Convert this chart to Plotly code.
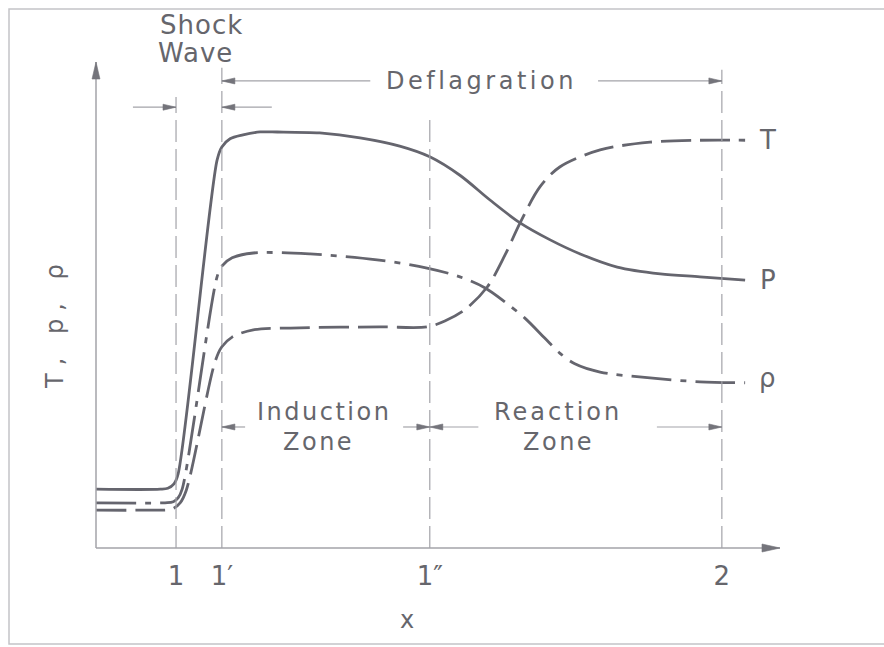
import math
import plotly.graph_objects as go

# Stations along the detonation wave (distance in arbitrary units)
station_x = [11.7, 18.4, 48.8, 91.5]
station_labels = ["1", "1′", "1″", "2"]

# Temperature T (dashed curve), relative units
t_x = [0, 7.9, 11.1, 12.3, 13.2, 17.4, 18.4, 19.9, 23.0, 29.8, 41.5, 48.4,
       51.0, 53.9, 57.2, 59.8, 62.0, 64.9, 67.8, 73.7, 81.0, 88.3, 94.9]
t_val = [7.8, 7.8, 8.0, 9.3, 11.9, 38.3, 41.4, 43.4, 44.9, 45.3, 45.5, 45.5,
         46.7, 49.0, 53.7, 60.3, 66.9, 74.3, 78.4, 81.9, 83.5, 83.9, 83.9]

# Pressure P (solid curve), relative units
p_x = [0, 9.4, 10.5, 11.4, 12.0, 17.7, 18.4, 19.6, 21.5, 24.0, 26.5, 32.7,
       38.6, 44.4, 48.8, 53.2, 57.6, 62.0, 66.4, 70.8, 76.2, 82.5, 88.3, 94.9]
p_val = [12.1, 12.1, 12.3, 13.2, 15.2, 79.8, 82.5, 84.2, 85.0, 85.6, 85.6, 85.4,
         84.4, 82.7, 80.5, 76.7, 71.6, 66.9, 63.4, 60.5, 57.8, 56.4, 55.8, 55.1]

# Density rho (dash-dot curve), relative units
rho_x = [0, 10.1, 11.3, 12.0, 12.6, 17.7, 18.4, 19.9, 23.0, 31.3, 41.1, 48.4,
         53.2, 56.9, 59.8, 62.7, 65.6, 67.8, 70.0, 73.7, 81.0, 88.3, 94.9]
rho_val = [9.3, 9.3, 9.5, 10.3, 12.1, 55.8, 58.0, 59.7, 60.7, 60.5, 59.3, 57.6,
           55.8, 53.5, 50.6, 47.3, 43.2, 40.1, 37.9, 36.2, 35.0, 34.2, 34.0]

INK = "#65656e"
THIN = "#a3a3a9"
HEAD = "#74747b"
TEXT = "#66666c"
FONT = "DejaVu Sans"

W, H = 884, 647
ML, MR, MT, MB = 96, 104, 62, 99
PX_X = (W - ML - MR) / 100.0
PX_Y = (H - MT - MB) / 100.0

fig = go.Figure()

for xs, ys, dash, name in [
    (t_x, t_val, "30px,9px", "T"),
    (p_x, p_val, "solid", "P"),
    (rho_x, rho_val, "40px,9px,6px,9px", "ρ"),
]:
    fig.add_trace(go.Scatter(
        x=xs, y=ys, mode="lines", name=name, hoverinfo="skip",
        line=dict(color=INK, width=2.8, dash=dash, shape="spline", smoothing=0.9),
    ))

shapes = []


def arrow(x0, y0, x1, y1, ref="x", head_len=13, head_half=3.0, lw=1.2, color=THIN):
    """Line from (x0, y0) to (x1, y1) with a slim filled head at the end."""
    if ref == "paper":
        xr, yr, k = "paper", "paper", 0.01
    else:
        xr, yr, k = "x", "y", 1.0
    shapes.append(dict(type="line", xref=xr, yref=yr,
                       x0=x0 * k, y0=y0 * k, x1=x1 * k, y1=y1 * k,
                       line=dict(color=color, width=lw)))
    dx = (x1 - x0) * PX_X
    dy = (y1 - y0) * PX_Y
    d = math.hypot(dx, dy)
    ux, uy = dx / d, dy / d
    bx = x1 - ux * head_len / PX_X
    by = y1 - uy * head_len / PX_Y
    ax1 = bx - uy * head_half / PX_X
    ay1 = by + ux * head_half / PX_Y
    ax2 = bx + uy * head_half / PX_X
    ay2 = by - ux * head_half / PX_Y
    path = "M {:.4f},{:.4f} L {:.4f},{:.4f} L {:.4f},{:.4f} Z".format(
        x1 * k, y1 * k, ax1 * k, ay1 * k, ax2 * k, ay2 * k)
    shapes.append(dict(type="path", xref=xr, yref=yr, path=path,
                       fillcolor=HEAD, line=dict(color=HEAD, width=0.6)))


# Axes with arrow tips
arrow(0, 0, 0, 100, ref="paper", head_len=17, head_half=4, lw=1.5)
arrow(0, 0, 100, 0, ref="paper", head_len=18, head_half=4, lw=1.5)

# Station lines
line_tops = [92.8, 98.8, 88.5, 98.4]
for sx, top in zip(station_x, line_tops):
    shapes.append(dict(type="line", xref="x", yref="y", x0=sx, x1=sx, y0=0, y1=top,
                       line=dict(color=THIN, width=1.2, dash="22px,7px")))

s1, s1p, s1pp, s2 = station_x
# Shock wave thickness
arrow(5.4, 90.7, s1, 90.7)
arrow(25.7, 90.7, s1p, 90.7)
# Deflagration
arrow(40.1, 96.1, s1p, 96.1)
arrow(73.4, 96.1, s2, 96.1)
# Induction zone
arrow(21.8, 24.9, s1p, 24.9)
arrow(44.9, 24.9, s1pp, 24.9)
# Reaction zone
arrow(55.9, 24.9, s1pp, 24.9)
arrow(82.0, 24.9, s2, 24.9)

fig.update_layout(shapes=shapes)


def label(x, y, text, size=24, spacing=3, angle=0):
    fig.add_annotation(
        x=x / 100.0, y=y / 100.0, xref="paper", yref="paper",
        text='<span style="letter-spacing:{}px">{}</span>'.format(spacing, text),
        showarrow=False, textangle=angle, xanchor="center", yanchor="middle",
        font=dict(family=FONT, size=size, color=TEXT),
    )


label(15.4, 107.6, "Shock", size=26, spacing=1)
label(14.6, 101.9, "Wave", size=26, spacing=1)
label(56.3, 96.1, "Deflagration", size=24, spacing=3.5)
label(33.4, 28.0, "Induction", size=24, spacing=2.5)
label(32.6, 21.8, "Zone", size=24, spacing=2.5)
label(67.5, 28.0, "Reaction", size=24, spacing=3)
label(67.6, 21.8, "Zone", size=24, spacing=2.5)
label(-6.0, 46.5, "T, p, ρ", size=24, spacing=8, angle=-90)
label(45.5, -14.8, "x", size=24, spacing=0)

# Curve end labels
for name, ys, shift in [("T", t_val, 0), ("P", p_val, 0), ("ρ", rho_val, 5)]:
    fig.add_annotation(x=98.2, y=ys[-1], xref="x", yref="y", text=name,
                       showarrow=False, yshift=shift, xanchor="center", yanchor="middle",
                       font=dict(family=FONT, size=26, color=TEXT))

# Faint frame around the figure (open on the right)
frame_path = "M {r},{t} L {l},{t} L {l},{b} L {r},{b}".format(
    l=(9 - ML) / (W - ML - MR), r=(W + 40 - ML) / (W - ML - MR),
    t=(H - MB - 9) / (H - MT - MB), b=(H - MB - (H - 3)) / (H - MT - MB))
fig.add_shape(type="path", xref="paper", yref="paper", path=frame_path,
              line=dict(color="#c4c4c8", width=1.5))

fig.update_layout(
    width=W, height=H, autosize=False,
    margin=dict(l=ML, r=MR, t=MT, b=MB, pad=0),
    paper_bgcolor="white", plot_bgcolor="white",
    showlegend=False,
    xaxis=dict(range=[0, 100], showgrid=False, zeroline=False, showline=False,
               tickmode="array", tickvals=station_x, ticktext=station_labels,
               ticks="", ticklabelstandoff=10,
               tickfont=dict(family=FONT, size=26, color=TEXT), fixedrange=True),
    yaxis=dict(range=[0, 100], showgrid=False, zeroline=False, showline=False,
               showticklabels=False, ticks="", fixedrange=True),
)

fig.write_html("out.html")
